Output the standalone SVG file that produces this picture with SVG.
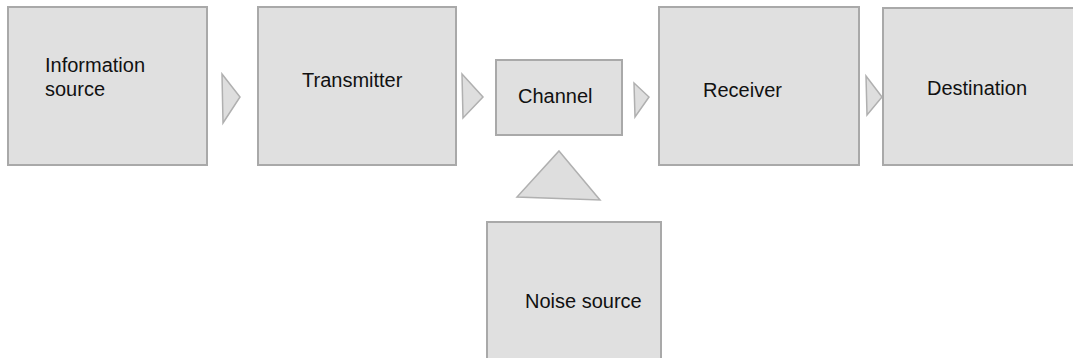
<svg xmlns="http://www.w3.org/2000/svg" width="1073" height="358" viewBox="0 0 1073 358">
<style>
.box{fill:#e0e0e0;stroke:#a9a9a9;stroke-width:2}
.arr{fill:#dedede;stroke:#b0b0b0;stroke-width:1.5;stroke-linejoin:miter}
.lbl{font-family:"Liberation Sans",Arial,Helvetica,sans-serif;font-size:20px;fill:#111}
</style>
<rect width="1073" height="358" fill="#ffffff"/>
<g id="connectors">
<polygon class="arr" points="222,74 240,97 223,123"/>
<polygon class="arr" points="462,74 483,97 463,118"/>
<polygon class="arr" points="634,83 649,97 635,117"/>
<polygon class="arr" points="866,76 882,97 867,115"/>
<polygon class="arr" points="559,151 600,200 517,197"/>
</g>
<g id="info-source">
<rect class="box" x="8" y="7" width="199" height="158"/>
<text class="lbl" x="45" y="72">Information</text>
<text class="lbl" x="45" y="96">source</text>
</g>
<g id="transmitter">
<rect class="box" x="258" y="7" width="198" height="158"/>
<text class="lbl" x="302" y="87">Transmitter</text>
</g>
<g id="channel">
<rect class="box" x="496" y="60" width="126" height="75"/>
<text class="lbl" x="518" y="103">Channel</text>
</g>
<g id="receiver">
<rect class="box" x="659" y="7" width="200" height="158"/>
<text class="lbl" x="703" y="97">Receiver</text>
</g>
<g id="destination">
<rect class="box" x="883" y="8" width="195" height="157"/>
<text class="lbl" x="927" y="95">Destination</text>
</g>
<g id="noise-source">
<rect class="box" x="487" y="222" width="174" height="145"/>
<text class="lbl" x="525" y="308">Noise source</text>
</g>
</svg>
